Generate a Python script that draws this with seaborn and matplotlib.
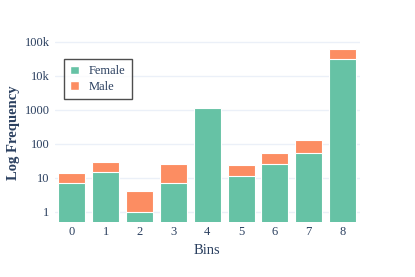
import matplotlib
matplotlib.use("Agg")
import matplotlib.pyplot as plt
import seaborn as sns
import pandas as pd
from matplotlib.patches import Patch

bins = ["0", "1", "2", "3", "4", "5", "6", "7", "8"]
female = [7, 15, 1, 7, 1150, 11, 25, 54, 31000]
male = [7, 15, 3, 18, 0, 13, 30, 74, 32000]
ytick_vals = [1, 10, 100, 1000, 10000, 100000]
ytick_labels = ["1", "10", "100", "1000", "10k", "100k"]

c_female = "#66c2a5"
c_male = "#fc8d62"
txt = "#2a3f5f"

sns.set_theme(style="white")
plt.rcParams["font.family"] = ["Liberation Serif", "DejaVu Serif"]

df = pd.DataFrame({"bin": bins, "female": female, "male": male})
df["total"] = df["female"] + df["male"]

W, H = 415, 277
fig = plt.figure(figsize=(W / 100, H / 100), dpi=100)
ax_w = 359.5 - 55
ax_h = 222 - 38
ax = fig.add_axes([55 / W, 1 - 222 / H, ax_w / W, ax_h / H])

sns.barplot(data=df, x="bin", y="total", color=c_male, saturation=1, width=0.8,
            edgecolor="white", linewidth=0.8, ax=ax, zorder=2)
sns.barplot(data=df, x="bin", y="female", color=c_female, saturation=1, width=0.8,
            edgecolor="white", linewidth=0.8, ax=ax, zorder=3)

ax.set_yscale("log")
ax.set_ylim(0.5, 130000)
ax.set_xlim(-0.5, 8.5)
ax.set_yticks(ytick_vals)
ax.set_yticklabels(ytick_labels)
ax.minorticks_off()
ax.yaxis.grid(True, color="#ebf0f8", linewidth=1, zorder=0)
ax.set_axisbelow(True)
for s in ax.spines.values():
    s.set_visible(False)
ax.tick_params(axis="both", length=0, labelsize=9, labelcolor=txt)
ax.tick_params(axis="y", pad=4)
ax.tick_params(axis="x", pad=3)
ax.set_xlabel("Bins", fontsize=10.5, color=txt)
ax.set_ylabel("Log Frequency", fontsize=10.5, color=txt, fontweight="bold")
ax.xaxis.set_label_coords(0.5, -(251 - 222) / ax_h)
ax.yaxis.set_label_coords(-(55 - 13) / ax_w, (222 - 133) / ax_h)
ax.yaxis.label.set_va("center")
ax.xaxis.label.set_va("center")

handles = [Patch(facecolor=c_female, edgecolor="white", label="Female"),
           Patch(facecolor=c_male, edgecolor="white", label="Male")]
leg = fig.legend(handles=handles, loc="upper left", bbox_to_anchor=(64 / W, 1 - 59 / H),
                 frameon=True, fancybox=False, fontsize=9, handlelength=0.7, handleheight=0.7,
                 handletextpad=0.8, borderpad=0.5, labelspacing=0.3, borderaxespad=0)
leg.get_frame().set_edgecolor("#222222")
leg.get_frame().set_linewidth(1)
for t in leg.get_texts():
    t.set_color(txt)

fig.savefig("out.png", dpi=100)
